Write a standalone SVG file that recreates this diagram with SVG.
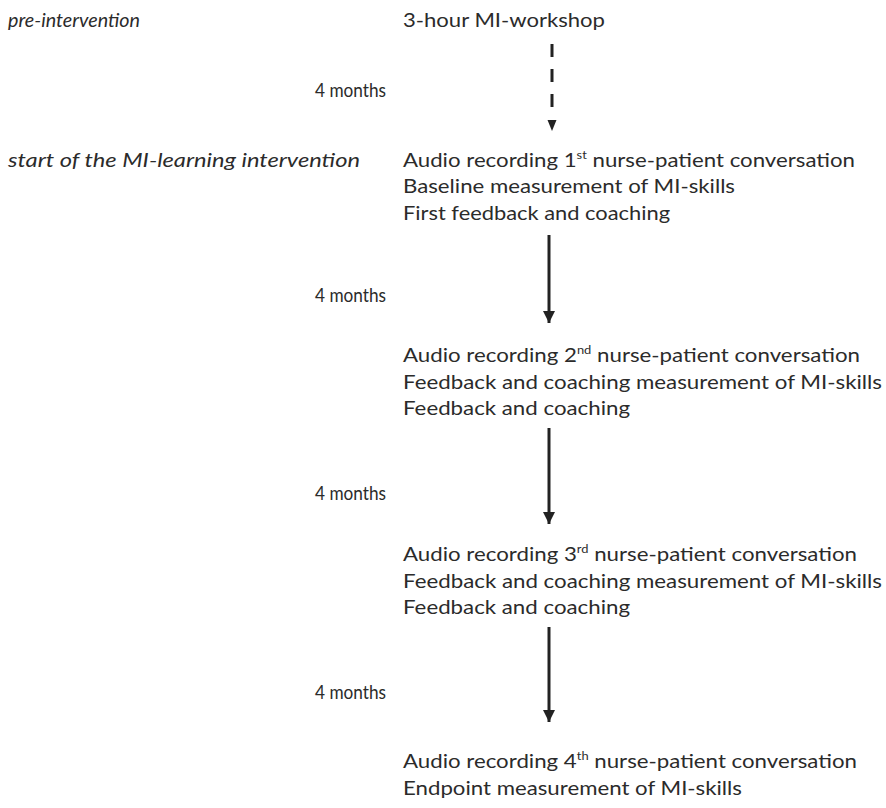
<svg xmlns="http://www.w3.org/2000/svg" width="886" height="808" viewBox="0 0 886 808">
<style>
text{font-family:Lato,"Open Sans","Liberation Sans",sans-serif;font-size:19px;fill:#2b2b2b}
.it{font-style:italic}
.sup{font-size:11px}
.ln{stroke:#222;stroke-width:3;fill:none}
</style>
<defs>
<marker id="ah" viewBox="0 0 10 10" refX="10" refY="5" markerWidth="4" markerHeight="4" orient="auto" markerUnits="strokeWidth">
<path d="M0,0 L10,5 L0,10 z" fill="#222"/>
</marker>
</defs>
<rect width="886" height="808" fill="#fff"/>
<g id="labels">
<text class="it" x="8" y="27" textLength="132" lengthAdjust="spacingAndGlyphs">pre-intervention</text>
<text class="it" x="8" y="167" textLength="352" lengthAdjust="spacingAndGlyphs">start of the MI-learning intervention</text>
<text x="315" y="97" textLength="71" lengthAdjust="spacingAndGlyphs">4 months</text>
<text x="315" y="302" textLength="71" lengthAdjust="spacingAndGlyphs">4 months</text>
<text x="315" y="500" textLength="71" lengthAdjust="spacingAndGlyphs">4 months</text>
<text x="315" y="699" textLength="71" lengthAdjust="spacingAndGlyphs">4 months</text>
</g>
<g id="node0">
<text x="403" y="27" textLength="202" lengthAdjust="spacingAndGlyphs">3-hour MI-workshop</text>
</g>
<g id="node1">
<text x="403" y="167" textLength="452" lengthAdjust="spacingAndGlyphs">Audio recording 1<tspan class="sup" dy="-8">st</tspan><tspan dy="8"> nurse-patient conversation</tspan></text>
<text x="403" y="193" textLength="332" lengthAdjust="spacingAndGlyphs">Baseline measurement of MI-skills</text>
<text x="403" y="220" textLength="267" lengthAdjust="spacingAndGlyphs">First feedback and coaching</text>
</g>
<g id="node2">
<text x="403" y="362" textLength="457" lengthAdjust="spacingAndGlyphs">Audio recording 2<tspan class="sup" dy="-8">nd</tspan><tspan dy="8"> nurse-patient conversation</tspan></text>
<text x="403" y="389" textLength="479" lengthAdjust="spacingAndGlyphs">Feedback and coaching measurement of MI-skills</text>
<text x="403" y="415" textLength="227" lengthAdjust="spacingAndGlyphs">Feedback and coaching</text>
</g>
<g id="node3">
<text x="403" y="561" textLength="454" lengthAdjust="spacingAndGlyphs">Audio recording 3<tspan class="sup" dy="-8">rd</tspan><tspan dy="8"> nurse-patient conversation</tspan></text>
<text x="403" y="588" textLength="479" lengthAdjust="spacingAndGlyphs">Feedback and coaching measurement of MI-skills</text>
<text x="403" y="614" textLength="227" lengthAdjust="spacingAndGlyphs">Feedback and coaching</text>
</g>
<g id="node4">
<text x="403" y="768" textLength="454" lengthAdjust="spacingAndGlyphs">Audio recording 4<tspan class="sup" dy="-8">th</tspan><tspan dy="8"> nurse-patient conversation</tspan></text>
<text x="403" y="795" textLength="339" lengthAdjust="spacingAndGlyphs">Endpoint measurement of MI-skills</text>
</g>
<g id="connectors">
<line class="ln" x1="552" y1="44" x2="552" y2="108" stroke-dasharray="13 12"/>
<path d="M547.5,120 L556.5,120 L552,131 z" fill="#222"/>
<line class="ln" x1="549" y1="235" x2="549" y2="323" marker-end="url(#ah)"/>
<line class="ln" x1="549" y1="428" x2="549" y2="524" marker-end="url(#ah)"/>
<line class="ln" x1="549" y1="627" x2="549" y2="722" marker-end="url(#ah)"/>
</g>
</svg>
